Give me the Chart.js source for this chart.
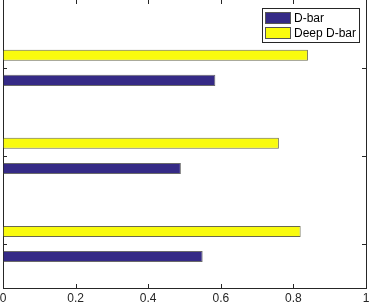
<!DOCTYPE html>
<html>
<head>
<meta charset="utf-8">
<script src="https://cdn.jsdelivr.net/npm/chart.js@4"></script>
<style>
  html, body { margin: 0; padding: 0; background: #fff; }
  #wrap { width: 370px; height: 307px; }
</style>
</head>
<body>
<div id="wrap"><canvas id="barChart"></canvas></div>
<script>
// chart data
const groups = [1, 2, 3];
const seriesNames = ["D-bar", "Deep D-bar"];
const dBar = [0.55, 0.49, 0.585];
const deepDBar = [0.82, 0.76, 0.84];
const xTicks = [0, 0.2, 0.4, 0.6, 0.8, 1];

const navy = "rgb(53,42,134)";
const yellow = "rgb(249,251,14)";
const axisColor = "#262626";

// inward tick marks, right border and boxed legend (MATLAB look)
const matlabAxes = {
    id: "matlabAxes",
    afterDraw(chart) {
        const { ctx, chartArea: a, scales } = chart;
        ctx.save();
        ctx.strokeStyle = axisColor;
        ctx.lineWidth = 1;
        ctx.beginPath();
        ctx.moveTo(Math.round(a.right) + 0.5, a.top);
        ctx.lineTo(Math.round(a.right) + 0.5, a.bottom);
        scales.x.ticks.forEach(t => {
            const px = Math.round(scales.x.getPixelForValue(t.value)) + 0.5;
            ctx.moveTo(px, a.bottom);
            ctx.lineTo(px, a.bottom - 4);
            ctx.moveTo(px, a.top);
            ctx.lineTo(px, a.top + 4);
        });
        scales.y.ticks.forEach(t => {
            const py = Math.round(scales.y.getPixelForValue(t.value)) + 0.5;
            ctx.moveTo(a.left, py);
            ctx.lineTo(a.left + 4, py);
            ctx.moveTo(a.right, py);
            ctx.lineTo(a.right - 4, py);
        });
        ctx.stroke();

        // legend box
        const lx = 262.5, ly = 8.5, lw = 97, lh = 34;
        ctx.fillStyle = "#fff";
        ctx.fillRect(lx, ly, lw, lh);
        ctx.strokeStyle = "#262626";
        ctx.strokeRect(lx, ly, lw, lh);
        const swatches = [navy, yellow];
        ctx.font = "12px 'Liberation Sans', Arial, sans-serif";
        ctx.textBaseline = "middle";
        seriesNames.forEach((name, i) => {
            const sy = 12 + i * 15;
            ctx.fillStyle = swatches[i];
            ctx.fillRect(265, sy, 26, 12);
            ctx.strokeStyle = "#555";
            ctx.strokeRect(265.5, sy + 0.5, 25, 11);
            ctx.fillStyle = "#000";
            ctx.fillText(name, 294, sy + 6.5);
        });
        ctx.restore();
    }
};

const ctx = document.getElementById("barChart").getContext("2d");
new Chart(ctx, {
    type: "bar",
    data: {
        datasets: [
            {
                label: seriesNames[1],
                data: groups.map((g, i) => ({ x: deepDBar[i], y: g })),
                backgroundColor: yellow,
                borderColor: "rgba(90,90,60,0.9)",
                borderWidth: 1
            },
            {
                label: seriesNames[0],
                data: groups.map((g, i) => ({ x: dBar[i], y: g })),
                backgroundColor: navy,
                borderColor: "rgba(90,90,90,0.9)",
                borderWidth: 1
            }
        ]
    },
    options: {
        indexAxis: "y",
        responsive: true,
        maintainAspectRatio: false,
        animation: false,
        categoryPercentage: 0.57,
        barPercentage: 0.44,
        layout: { padding: { left: 3, right: 4, top: 0, bottom: 0 } },
        plugins: {
            legend: { display: false },
            tooltip: { enabled: false }
        },
        scales: {
            x: {
                type: "linear",
                min: 0,
                max: 1,
                afterBuildTicks: scale => { scale.ticks = xTicks.map(v => ({ value: v })); },
                afterFit: scale => {
                    scale.paddingLeft = 0;
                    scale.paddingRight = 0;
                    scale.height = 19;
                },
                grid: { display: true, drawOnChartArea: false, drawTicks: false },
                border: { display: true, color: axisColor, width: 1 },
                ticks: {
                    color: axisColor,
                    padding: 3,
                    maxRotation: 0,
                    font: { family: "'Liberation Sans', Arial, sans-serif", size: 12 },
                    callback: v => String(v)
                }
            },
            y: {
                type: "linear",
                min: 0.5,
                max: 3.77,
                offset: false,
                afterBuildTicks: scale => { scale.ticks = groups.map(v => ({ value: v })); },
                afterFit: scale => { scale.width = 0; },
                grid: { display: false, drawTicks: false, offset: false },
                border: { display: true, color: axisColor, width: 1 },
                ticks: { display: false }
            }
        }
    },
    plugins: [matlabAxes]
});
</script>
</body>
</html>
